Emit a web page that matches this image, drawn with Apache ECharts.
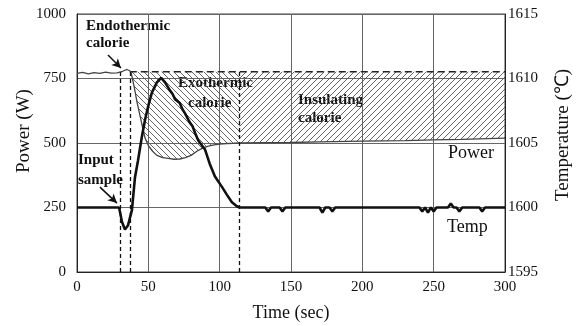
<!DOCTYPE html>
<html>
<head>
<meta charset="utf-8">
<script src="https://cdn.jsdelivr.net/npm/echarts@6/dist/echarts.min.js"></script>
<style>
  html, body { margin: 0; padding: 0; background: #fff; }
  #chart { width: 581px; height: 326px; }
</style>
</head>
<body>
<div id="chart"></div>
<script>
// power curve, time (sec) / power (W)
var powerTime = [0, 4, 8, 12, 16, 20, 24, 28, 32, 35, 37, 38, 40, 42, 44, 46, 47.7, 50, 53, 56, 60, 64, 68, 72, 76, 80, 84, 88, 92, 96, 100, 105, 110, 114, 130, 150, 170, 200, 230, 250, 270, 300];
var powerValue = [770, 774, 768, 773, 770, 775, 771, 772, 778, 785, 780, 771, 720, 660, 610, 560, 519, 490, 468, 452, 443, 440, 437, 438, 443, 452, 468, 480, 488, 493, 496, 498, 499, 500, 501, 502, 504, 507, 509, 512, 514, 519];

// melt temperature, time (sec) / temp (C)
var tempTime = [0, 29.5, 31.5, 33.6, 35.7, 38.5, 40.6, 42.7, 45.5, 47.7, 50, 52.5, 56, 59, 61.7, 65, 67, 68.7, 70, 72, 74, 75.7, 77, 79, 81, 82.7, 85, 89.7, 93, 96.7, 101.6, 105, 108.6, 112, 114,
  132, 134, 136, 142, 144, 146, 170, 172, 174, 177, 179, 181, 240, 242, 244, 246, 248, 250, 252, 260, 262, 264, 266, 268, 270, 282, 284, 286, 300];
var tempValue = [1600, 1600, 1598.9, 1598.3, 1598.6, 1599.8, 1602.3, 1603.6, 1605.5, 1606.8, 1607.9, 1608.9, 1609.7, 1610.05, 1609.7, 1609.1, 1608.8, 1608.4, 1608.3, 1608.1, 1607.6, 1607.3, 1607.2, 1606.6, 1606.3, 1605.8, 1605.2, 1604.5, 1603.4, 1602.4, 1601.6, 1601, 1600.4, 1600.1, 1600,
  1600, 1599.7, 1600, 1600, 1599.7, 1600, 1600, 1599.6, 1600, 1600, 1599.7, 1600, 1600, 1599.7, 1600, 1599.6, 1600, 1599.7, 1600, 1600, 1600.3, 1600, 1600, 1599.7, 1600, 1600, 1599.7, 1600, 1600];

var baseLevel = 776;           // power before the sample goes in (W)
var hatchStart = 38;           // sec
var splitTime = 114;           // sec, end of exothermic part
var markerTimes = [30.5, 37.5, 114];

function pairs(xs, ys, from, to) {
  var out = [];
  for (var i = 0; i < xs.length; i++) {
    if (xs[i] >= from && xs[i] <= to) out.push([xs[i], ys[i]]);
  }
  return out;
}

// diagonal hatch tile, dir > 0 is '/', otherwise '\'
function hatch(dir) {
  var c = document.createElement('canvas');
  c.width = c.height = 6;
  var g = c.getContext('2d');
  g.strokeStyle = '#555';
  g.lineWidth = 0.9;
  g.beginPath();
  if (dir > 0) {
    g.moveTo(-1, 7); g.lineTo(7, -1);
    g.moveTo(-1, 1); g.lineTo(1, -1);
    g.moveTo(5, 7); g.lineTo(7, 5);
  } else {
    g.moveTo(-1, -1); g.lineTo(7, 7);
    g.moveTo(5, -1); g.lineTo(7, 1);
    g.moveTo(-1, 5); g.lineTo(1, 7);
  }
  g.stroke();
  return c;
}

var serif = 'Liberation Serif';
var chart = echarts.init(document.getElementById('chart'));

function txt(s, x, y, size, bold) {
  return {
    type: 'text', x: x, y: y, silent: true,
    style: { text: s, fill: '#111', textVerticalAlign: 'middle',
      font: (bold ? 'bold ' : '') + size + 'px "' + serif + '"' }
  };
}
function plain(v) { return String(v); }

chart.setOption({
  animation: false,
  grid: { left: 77, right: 76, top: 14, bottom: 54, outerBoundsMode: 'none',
    show: true, borderColor: '#444', borderWidth: 1 },
  xAxis: {
    type: 'value', min: 0, max: 300, interval: 50,
    name: 'Time (sec)', nameLocation: 'middle', nameGap: 32,
    nameTextStyle: { fontFamily: serif, fontSize: 18, color: '#111' },
    axisLine: { show: true, lineStyle: { color: '#222' } },
    axisTick: { show: false },
    axisLabel: { fontFamily: serif, fontSize: 15, color: '#111', margin: 8, formatter: plain },
    splitLine: { show: true, lineStyle: { color: '#666', width: 1 } }
  },
  yAxis: [{
    type: 'value', min: 0, max: 1000, interval: 250,
    name: 'Power (W)', nameLocation: 'middle', nameGap: 43, nameRotate: 90, nameMoveOverlap: false,
    nameTextStyle: { fontFamily: serif, fontSize: 19, color: '#111', padding: [0, 0, 0, 24] },
    axisLine: { show: true, lineStyle: { color: '#222' } },
    axisTick: { show: false },
    axisLabel: { fontFamily: serif, fontSize: 15, color: '#111', margin: 11, formatter: plain },
    splitLine: { show: true, lineStyle: { color: '#666', width: 1 } }
  }, {
    type: 'value', min: 1595, max: 1615, interval: 5, position: 'right',
    name: 'Temperature (℃)', nameLocation: 'middle', nameGap: 49, nameRotate: 90, nameMoveOverlap: false,
    nameTextStyle: { fontFamily: serif, fontSize: 19, color: '#111', padding: [0, 0, 0, 16] },
    axisLine: { show: true, lineStyle: { color: '#222' } },
    axisTick: { show: false },
    axisLabel: { fontFamily: serif, fontSize: 15, color: '#111', margin: 3, formatter: plain },
    splitLine: { show: false }
  }],
  series: [{
    // endothermic + exothermic part
    type: 'line', data: pairs(powerTime, powerValue, hatchStart, splitTime),
    symbol: 'none', lineStyle: { width: 0 }, silent: true,
    areaStyle: { origin: baseLevel, opacity: 1, color: { image: hatch(-1), repeat: 'repeat' } }
  }, {
    // insulating part
    type: 'line', data: pairs(powerTime, powerValue, splitTime, 300),
    symbol: 'none', lineStyle: { width: 0 }, silent: true,
    areaStyle: { origin: baseLevel, opacity: 1, color: { image: hatch(1), repeat: 'repeat' } }
  }, {
    // reference level + marker lines
    type: 'line', data: [[37, baseLevel], [300, baseLevel]],
    symbol: 'none', silent: true,
    lineStyle: { color: '#222', width: 1.4, type: [7, 4] },
    markLine: {
      silent: true, symbol: 'none', label: { show: false },
      lineStyle: { color: '#111', width: 1.3, type: [4, 3] },
      data: markerTimes.map(function (t) { return [{ coord: [t, 0] }, { coord: [t, baseLevel] }]; })
    }
  }, {
    name: 'Power', type: 'line', data: pairs(powerTime, powerValue, 0, 300),
    symbol: 'none', lineStyle: { color: '#444', width: 1.3 },
    markLine: {
      silent: true, symbol: ['none', 'arrow'], symbolSize: [7, 9], label: { show: false },
      lineStyle: { color: '#111', width: 1.5, type: 'solid' },
      data: [
        [{ coord: [21.7, 841] }, { coord: [30.8, 791] }],
        [{ coord: [16.1, 329] }, { coord: [28, 267] }]
      ]
    }
  }, {
    name: 'Temp', type: 'line', yAxisIndex: 1, data: pairs(tempTime, tempValue, 0, 300),
    symbol: 'none', lineStyle: { color: '#111', width: 2.6 }
  }],
  graphic: [
    txt('Endothermic', 86, 26, 15, true),
    txt('calorie', 86, 43, 15, true),
    txt('Exothermic', 178, 83, 15, true),
    txt('calorie', 188, 103, 15, true),
    txt('Insulating', 298, 100, 15, true),
    txt('calorie', 298, 118, 15, true),
    txt('Input', 78, 160, 15, true),
    txt('sample', 78, 180, 15, true),
    txt('Power', 448, 153, 18, false),
    txt('Temp', 447, 227, 18, false)
  ]
});
</script>
</body>
</html>
